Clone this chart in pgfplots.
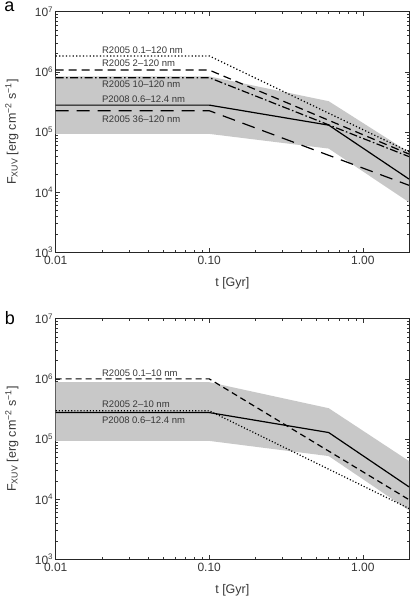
\documentclass[border=0pt]{standalone}
\usepackage{fontspec}
\setmainfont{Liberation Sans}
\usepackage{pgfplots}
\pgfplotsset{compat=1.18}
\definecolor{band}{RGB}{200,200,200}
\definecolor{txt}{RGB}{55,55,55}
\tikzset{ann/.style={anchor=west, inner sep=0pt, font=\fontsize{9.5}{11}\selectfont, text=txt}}
\begin{document}
\begin{tikzpicture}
\useasboundingbox (-55.7pt,-345.7pt) rectangle (354.3pt,252.3pt);
% ---------------- panel a ----------------
\begin{axis}[
    xmode=log, ymode=log,
    scale only axis, width=353.3pt, height=240.6pt,
    xmin=0.01, xmax=2, ymin=1e3, ymax=1e7,
    xtick={0.01,0.1,1}, xticklabels={0.01,0.10,1.00},
    ytick={1e3,1e4,1e5,1e6,1e7},
    yticklabels={10\textsuperscript{3},10\textsuperscript{4},10\textsuperscript{5},10\textsuperscript{6},10\textsuperscript{7}},
    minor xtick={0.02,0.03,0.04,0.05,0.06,0.07,0.08,0.09,0.2,0.3,0.4,0.5,0.6,0.7,0.8,0.9,2},
    minor ytick={2e3,3e3,4e3,5e3,6e3,7e3,8e3,9e3,2e4,3e4,4e4,5e4,6e4,7e4,8e4,9e4,2e5,3e5,4e5,5e5,6e5,7e5,8e5,9e5,2e6,3e6,4e6,5e6,6e6,7e6,8e6,9e6},
    tick align=inside, tick pos=both,
    major tick length=4pt, minor tick length=2.5pt,
    tick style={black!80, line width=0.5pt},
    axis line style={black!85, line width=0.6pt},
    tick label style={font=\fontsize{12}{14}\selectfont, text=txt},
    yticklabel style={xshift=1pt},
    label style={font=\fontsize{12.5}{15}\selectfont, text=txt},
    xlabel={t [Gyr]},
    ylabel={F\textsubscript{XUV} [erg cm\textsuperscript{−2} s\textsuperscript{−1}]},
    xlabel style={at={(axis description cs:0.5,-0.13)}, anchor=center},
    ylabel style={at={(axis description cs:-0.124,0.5)}, anchor=center},
    clip=false,
    at={(0pt,0pt)}, anchor=south west]
\addplot[fill=band, draw=none] coordinates {
 (0.01,9.3e4) (0.1,9.3e4) (0.6,5.3e4) (2,6.8e3)
 (2,4.6e4) (0.6,3.25e5) (0.1,8.4e5) (0.01,8.4e5)} -- cycle;
% R2005 0.1-120 nm
\addplot[black, line width=1.2pt, dash pattern=on 1.2pt off 2.2pt] coordinates {(0.01,1.84e6) (0.1,1.84e6) (2,4.7e4)};
% R2005 2-120 nm
\addplot[black, line width=1.2pt, dash pattern=on 8pt off 5pt] coordinates {(0.01,1.07e6) (0.1,1.07e6) (2,4.3e4)};
% R2005 10-120 nm
\addplot[black, line width=1.2pt, dash pattern=on 8pt off 2.5pt on 1.5pt off 2.5pt] coordinates {(0.01,8.0e5) (0.1,8.0e5) (2,3.9e4)};
% P2008 0.6-12.4 nm
\addplot[black, line width=1.2pt] coordinates {(0.01,2.8e5) (0.1,2.8e5) (0.6,1.3e5) (2,1.65e4)};
% R2005 36-120 nm
\addplot[black, line width=1.2pt, dash pattern=on 13pt off 8pt] coordinates {(0.01,2.26e5) (0.1,2.26e5) (2,1.3e4)};
\node[ann] at (axis cs:0.02,2.25e6) {R2005 0.1–120 nm};
\node[ann] at (axis cs:0.02,1.39e6) {R2005 2–120 nm};
\node[ann] at (axis cs:0.02,6.28e5) {R2005 10–120 nm};
\node[ann] at (axis cs:0.02,3.54e5) {P2008 0.6–12.4 nm};
\node[ann] at (axis cs:0.02,1.63e5) {R2005 36–120 nm};
\end{axis}
% ---------------- panel b ----------------
\begin{axis}[
    xmode=log, ymode=log,
    scale only axis, width=353.3pt, height=240.6pt,
    xmin=0.01, xmax=2, ymin=1e3, ymax=1e7,
    xtick={0.01,0.1,1}, xticklabels={0.01,0.10,1.00},
    ytick={1e3,1e4,1e5,1e6,1e7},
    yticklabels={10\textsuperscript{3},10\textsuperscript{4},10\textsuperscript{5},10\textsuperscript{6},10\textsuperscript{7}},
    minor xtick={0.02,0.03,0.04,0.05,0.06,0.07,0.08,0.09,0.2,0.3,0.4,0.5,0.6,0.7,0.8,0.9,2},
    minor ytick={2e3,3e3,4e3,5e3,6e3,7e3,8e3,9e3,2e4,3e4,4e4,5e4,6e4,7e4,8e4,9e4,2e5,3e5,4e5,5e5,6e5,7e5,8e5,9e5,2e6,3e6,4e6,5e6,6e6,7e6,8e6,9e6},
    tick align=inside, tick pos=both,
    major tick length=4pt, minor tick length=2.5pt,
    tick style={black!80, line width=0.5pt},
    axis line style={black!85, line width=0.6pt},
    tick label style={font=\fontsize{12}{14}\selectfont, text=txt},
    yticklabel style={xshift=1pt},
    label style={font=\fontsize{12.5}{15}\selectfont, text=txt},
    xlabel={t [Gyr]},
    ylabel={F\textsubscript{XUV} [erg cm\textsuperscript{−2} s\textsuperscript{−1}]},
    xlabel style={at={(axis description cs:0.5,-0.13)}, anchor=center},
    ylabel style={at={(axis description cs:-0.124,0.5)}, anchor=center},
    clip=false,
    at={(0pt,-307pt)}, anchor=south west]
\addplot[fill=band, draw=none] coordinates {
 (0.01,9.3e4) (0.1,9.3e4) (0.6,5.2e4) (2,6.5e3)
 (2,4.3e4) (0.6,3.25e5) (0.1,8.8e5) (0.01,8.8e5)} -- cycle;
% R2005 0.1-10 nm
\addplot[black, line width=1.2pt, dash pattern=on 6pt off 4pt] coordinates {(0.01,1.0e6) (0.1,1.0e6) (2,9.8e3)};
% R2005 2-10 nm
\addplot[black, line width=1.2pt, dash pattern=on 1.1pt off 2pt] coordinates {(0.01,2.95e5) (0.1,2.95e5) (2,7.0e3)};
% P2008 0.6-12.4 nm
\addplot[black, line width=1.2pt] coordinates {(0.01,2.75e5) (0.1,2.75e5) (0.6,1.28e5) (2,1.6e4)};
\node[ann] at (axis cs:0.02,1.24e6) {R2005 0.1–10 nm};
\node[ann] at (axis cs:0.02,3.84e5) {R2005 2–10 nm};
\node[ann] at (axis cs:0.02,2.08e5) {P2008 0.6–12.4 nm};
\end{axis}
\node[inner sep=0pt, anchor=base, font=\fontsize{18}{20}\selectfont] at (-46.2pt,240.5pt) {a};
\node[inner sep=0pt, anchor=base, font=\fontsize{18}{20}\selectfont] at (-45.7pt,-72pt) {b};
\end{tikzpicture}
\end{document}
